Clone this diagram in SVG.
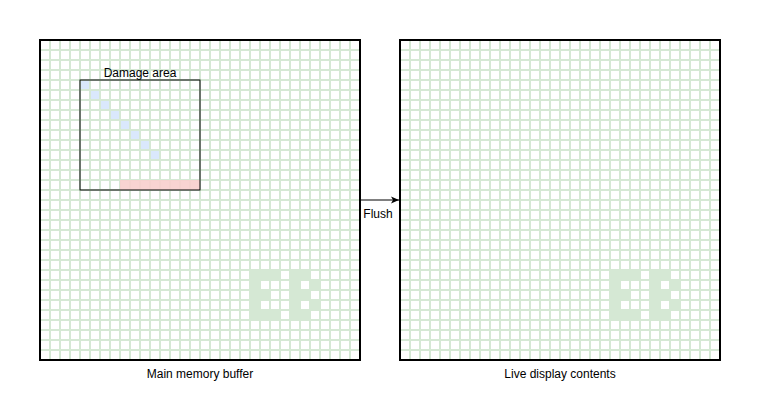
<svg xmlns="http://www.w3.org/2000/svg" width="760" height="400" viewBox="0 0 760 400">
<style>
.lbl{font-family:"Liberation Sans",Arial,sans-serif;font-size:12px;fill:#000;text-anchor:middle}
.frame{fill:none;stroke:#000;stroke-width:2}
.eb{fill:#d5e8d4;fill-rule:evenodd}
</style>
<defs>
<pattern id="grid" x="40" y="40" width="10" height="10" patternUnits="userSpaceOnUse">
<rect x="0" y="0" width="10" height="10" fill="none" stroke="#d5e8d4" stroke-width="2"/>
</pattern>
<marker id="arr" markerWidth="10" markerHeight="10" refX="8" refY="5" orient="auto" markerUnits="userSpaceOnUse">
<path d="M0 1.5L8 5L0 8.5L2 5z" fill="#000"/>
</marker>
<path id="ebshape" d="M250 270h30v10h-20v10h10v10h-10v10h20v10h-30z M290 270h20v10h10v10h-10v10h10v10h-10v10h-20z M300 280h10v10h-10z M300 300h10v10h-10z"/>
</defs>
<rect width="760" height="400" fill="#fff"/>
<g id="main-buffer">
<rect x="40" y="40" width="320" height="320" fill="#fff"/>
<g id="damage-cells">
<rect x="80" y="80" width="10" height="10" fill="#dae8fc"/>
<rect x="90" y="90" width="10" height="10" fill="#dae8fc"/>
<rect x="100" y="100" width="10" height="10" fill="#dae8fc"/>
<rect x="110" y="110" width="10" height="10" fill="#dae8fc"/>
<rect x="120" y="120" width="10" height="10" fill="#dae8fc"/>
<rect x="130" y="130" width="10" height="10" fill="#dae8fc"/>
<rect x="140" y="140" width="10" height="10" fill="#dae8fc"/>
<rect x="150" y="150" width="10" height="10" fill="#dae8fc"/>
</g>
<use href="#ebshape" class="eb"/>
<rect x="40" y="40" width="320" height="320" fill="url(#grid)"/>
<rect x="120" y="180" width="80" height="10" fill="#f8cecc" opacity="0.9"/>
<rect class="frame" x="40" y="40" width="320" height="320"/>
<text class="lbl" x="200" y="378">Main memory buffer</text>
</g>
<g id="damage-area">
<rect x="80" y="80" width="120" height="110" fill="none" stroke="#000" stroke-width="1"/>
<text class="lbl" x="140" y="77">Damage area</text>
</g>
<g id="live-display">
<rect x="400" y="40" width="320" height="320" fill="#fff"/>
<use href="#ebshape" class="eb" transform="translate(360 0)"/>
<rect x="400" y="40" width="320" height="320" fill="url(#grid)"/>
<rect class="frame" x="400" y="40" width="320" height="320"/>
<text class="lbl" x="560" y="378">Live display contents</text>
</g>
<g id="connectors">
<line x1="361" y1="200" x2="399" y2="200" stroke="#000" stroke-width="1" marker-end="url(#arr)"/>
<text class="lbl" x="378" y="218">Flush</text>
</g>
</svg>
